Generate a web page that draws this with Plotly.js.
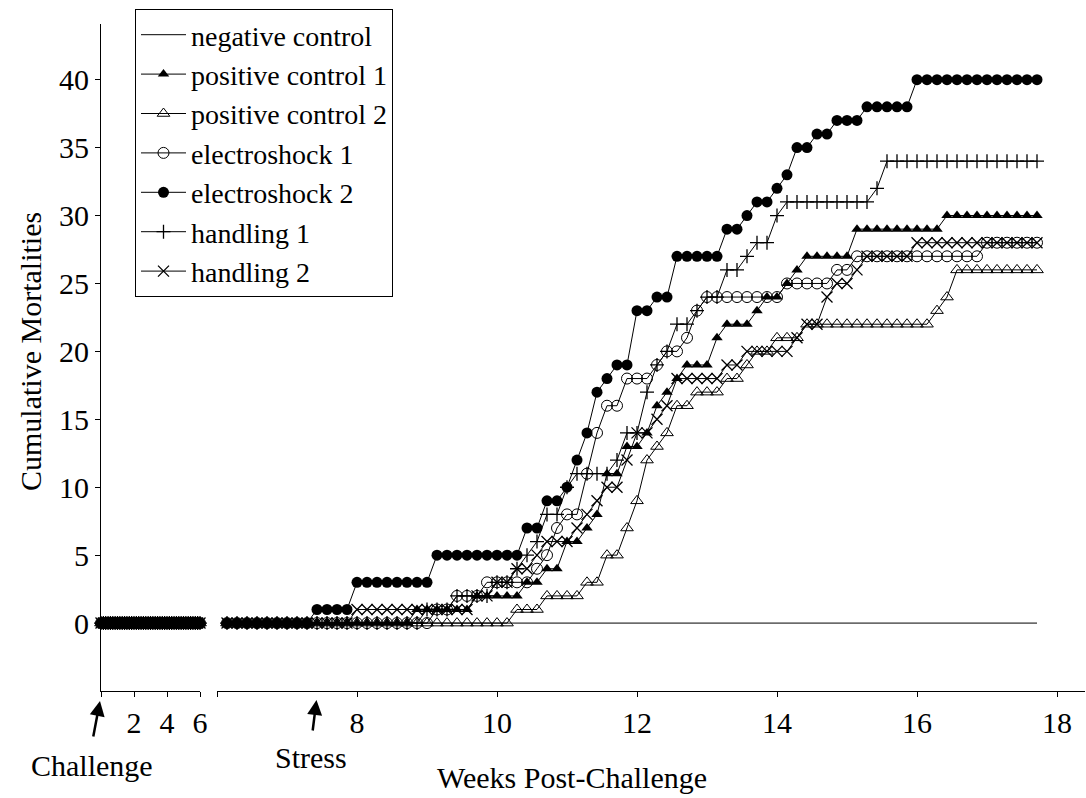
<!DOCTYPE html>
<html><head><meta charset="utf-8">
<script src="https://cdn.plot.ly/plotly-3.0.1.min.js"></script>
<style>body{margin:0;background:#fff}#chart{width:1086px;height:798px}</style>
</head><body><div id="chart"></div>
<script>
// ---------- DATA ----------
const seriesNames = ["negative control","positive control 1","positive control 2","electroshock 1","electroshock 2","handling 1","handling 2"];

// days post-challenge, before the axis break (weeks 0-6)
const daysBeforeBreak = [0,1,2,3,4,5,6,7,8,9,10,11,12,13,14,15,16,17,18,19,20,21,22,23,24,25,26,27,28,29,30,31,32,33,34,35,36,37,38,39,40,41,42];
const mortalitiesBeforeBreak = [0,0,0,0,0,0,0,0,0,0,0,0,0,0,0,0,0,0,0,0,0,0,0,0,0,0,0,0,0,0,0,0,0,0,0,0,0,0,0,0,0,0,0];

// days post-challenge, after the axis break
const daysAfterBreak = [43,44,45,46,47,48,49,50,51,52,53,54,55,56,57,58,59,60,61,62,63,64,65,66,67,68,69,70,71,72,73,74,75,76,77,78,79,80,81,82,83,84,85,86,87,88,89,90,91,92,93,94,95,96,97,98,99,100,101,102,103,104,105,106,107,108,109,110,111,112,113,114,115,116,117,118,119,120,121,122,123,124];

const negativeControl = [0,0,0,0,0,0,0,0,0,0,0,0,0,0,0,0,0,0,0,0,0,0,0,0,0,0,0,0,0,0,0,0,0,0,0,0,0,0,0,0,0,0,0,0,0,0,0,0,0,0,0,0,0,0,0,0,0,0,0,0,0,0,0,0,0,0,0,0,0,0,0,0,0,0,0,0,0,0,0,0,0,0];
const positiveControl1 = [0,0,0,0,0,0,0,0,0,0,0,0,0,0,0,0,0,0,0,1,1,1,1,1,1,2,2,2,2,2,3,3,4,4,6,6,7,8,11,11,13,13,14,16,17,18,19,19,19,21,22,22,22,23,24,24,25,26,27,27,27,27,27,29,29,29,29,29,29,29,29,29,30,30,30,30,30,30,30,30,30,30];
const positiveControl2 = [0,0,0,0,0,0,0,0,0,0,0,0,0,0,0,0,0,0,0,0,0,0,0,0,0,0,0,0,0,1,1,1,2,2,2,2,3,3,5,5,7,9,12,13,14,16,16,17,17,17,18,18,19,20,20,21,21,21,22,22,22,22,22,22,22,22,22,22,22,22,22,23,24,26,26,26,26,26,26,26,26,26];
const electroshock1 = [0,0,0,0,0,0,0,0,0,0,0,0,0,0,0,0,0,0,0,0,0,1,1,2,2,2,3,3,3,3,3,4,5,7,8,8,11,14,16,16,18,18,18,19,20,20,21,23,24,24,24,24,24,24,24,24,25,25,25,25,25,26,26,27,27,27,27,27,27,27,27,27,27,27,27,27,28,28,28,28,28,28];
const electroshock2 = [0,0,0,0,0,0,0,0,0,1,1,1,1,3,3,3,3,3,3,3,3,5,5,5,5,5,5,5,5,5,7,7,9,9,10,12,14,17,18,19,19,23,23,24,24,27,27,27,27,27,29,29,30,31,31,32,33,35,35,36,36,37,37,37,38,38,38,38,38,40,40,40,40,40,40,40,40,40,40,40,40,40];
const handling1 = [0,0,0,0,0,0,0,0,0,0,0,0,0,0,0,0,0,0,0,0,1,1,1,2,2,2,2,3,3,4,5,6,8,8,10,11,11,11,11,12,14,14,17,19,20,22,22,23,24,24,26,26,27,28,28,30,31,31,31,31,31,31,31,31,31,32,34,34,34,34,34,34,34,34,34,34,34,34,34,34,34,34];
const handling2 = [0,0,0,0,0,0,0,0,0,0,0,0,0,1,1,1,1,1,1,1,1,1,1,1,1,2,2,3,3,4,4,5,6,6,6,7,8,9,10,10,12,14,14,15,16,18,18,18,18,18,19,19,20,20,20,20,20,21,22,22,24,25,25,26,27,27,27,27,27,28,28,28,28,28,28,28,28,28,28,28,28,28];

// axis tick labels
const leftTickWeeks = [0,2,4,6];
const leftTickText = ["","2","4","6"];
const rightTickWeeks = [6,8,10,12,14,16,18];
const rightTickText = ["","8","10","12","14","16","18"];
const yTickValues = [0,5,10,15,20,25,30,35,40];

// ---------- STYLE ----------
const FONT = "Liberation Serif, Times New Roman, serif";
const styles = [
  {mode:"lines", marker:{}},
  {mode:"lines+markers", marker:{symbol:"triangle-up", size:10, color:"#000"}},
  {mode:"lines+markers", marker:{symbol:"triangle-up-open", size:11, color:"#000", line:{width:1}}},
  {mode:"lines+markers", marker:{symbol:"circle-open", size:11, color:"#000", line:{width:1}}},
  {mode:"lines+markers", marker:{symbol:"circle", size:11, color:"#000"}},
  {mode:"lines+markers", marker:{symbol:"cross-thin", size:10, color:"#000", line:{width:1.3, color:"#000"}}},
  {mode:"lines+markers", marker:{symbol:"x-thin", size:11, color:"#000", line:{width:1.3, color:"#000"}}}
];
const seriesValues = [negativeControl, positiveControl1, positiveControl2, electroshock1, electroshock2, handling1, handling2];

const toWeeks = d => d.map(v => v/7);
const traces = [];
seriesNames.forEach((name, i) => {
  traces.push({
    type:"scatter", name:name, legendgroup:name, showlegend:true,
    x: toWeeks(daysAfterBreak), y: seriesValues[i], xaxis:"x2", yaxis:"y",
    mode: styles[i].mode, marker: styles[i].marker, line:{color:"#000", width:1},
    cliponaxis:false
  });
});
seriesNames.forEach((name, i) => {
  traces.push({
    type:"scatter", name:name, legendgroup:name, showlegend:false,
    x: toWeeks(daysBeforeBreak), y: mortalitiesBeforeBreak, xaxis:"x", yaxis:"y",
    mode: styles[i].mode, marker: styles[i].marker, line:{color:"#000", width:1},
    cliponaxis:false
  });
});

// pixel helpers for plot geometry
const L = 101, T = 24, W = 984, H = 667;
const px = x => (x - L) / W;
const py = y => (T + H - y) / H;

const axisCommon = {
  showline:true, linecolor:"#000", linewidth:1, ticks:"outside", ticklen:5, tickwidth:1,
  tickcolor:"#000", showgrid:false, zeroline:false,
  tickfont:{family:FONT, size:30, color:"#000"}
};

const layout = {
  width:1086, height:798,
  margin:{l:L, r:1086-L-W, t:T, b:798-T-H, pad:0},
  paper_bgcolor:"#fff", plot_bgcolor:"#fff",
  font:{family:FONT, color:"#000", size:30},
  showlegend:true,
  legend:{
    x:px(135), y:py(9), xanchor:"left", yanchor:"top",
    bgcolor:"#fff", bordercolor:"#000", borderwidth:1, itemwidth:45,
    font:{family:FONT, size:28, color:"#000"}, tracegroupgap:0
  },
  xaxis: Object.assign({}, axisCommon, {
    domain:[0, 99/W], range:[0,6], anchor:"y",
    tickmode:"array", tickvals:leftTickWeeks, ticktext:leftTickText
  }),
  xaxis2: Object.assign({}, axisCommon, {
    domain:[116/W, 1], range:[6,18.4], anchor:"y",
    tickmode:"array", tickvals:rightTickWeeks, ticktext:rightTickText
  }),
  yaxis: Object.assign({}, axisCommon, {
    range:[-5,44.1], anchor:"x", tickmode:"array", tickvals:yTickValues
  }),
  annotations:[
    {xref:"paper", yref:"paper", x:px(572), y:py(778), text:"Weeks Post-Challenge", showarrow:false,
     xanchor:"center", yanchor:"middle", font:{family:FONT, size:30, color:"#000"}},
    {xref:"paper", yref:"paper", x:px(30), y:py(352), text:"Cumulative Mortalities", showarrow:false,
     textangle:-90, xanchor:"center", yanchor:"middle", font:{family:FONT, size:30, color:"#000"}},
    {xref:"paper", yref:"paper", x:px(92), y:py(766), text:"Challenge", showarrow:false,
     xanchor:"center", yanchor:"middle", font:{family:FONT, size:30, color:"#000"}},
    {xref:"paper", yref:"paper", x:px(311), y:py(757), text:"Stress", showarrow:false,
     xanchor:"center", yanchor:"middle", font:{family:FONT, size:30, color:"#000"}},
    {xref:"paper", yref:"paper", x:px(100), y:py(701), text:"", showarrow:true,
     ax:-7, ay:37, arrowhead:2, arrowsize:1.2, arrowwidth:2.5, arrowcolor:"#000"},
    {xref:"paper", yref:"paper", x:px(316.5), y:py(700), text:"", showarrow:true,
     ax:-4, ay:32, arrowhead:2, arrowsize:1.2, arrowwidth:2.5, arrowcolor:"#000"}
  ]
};

Plotly.newPlot("chart", traces, layout, {displayModeBar:false, staticPlot:true});
</script>
</body></html>
